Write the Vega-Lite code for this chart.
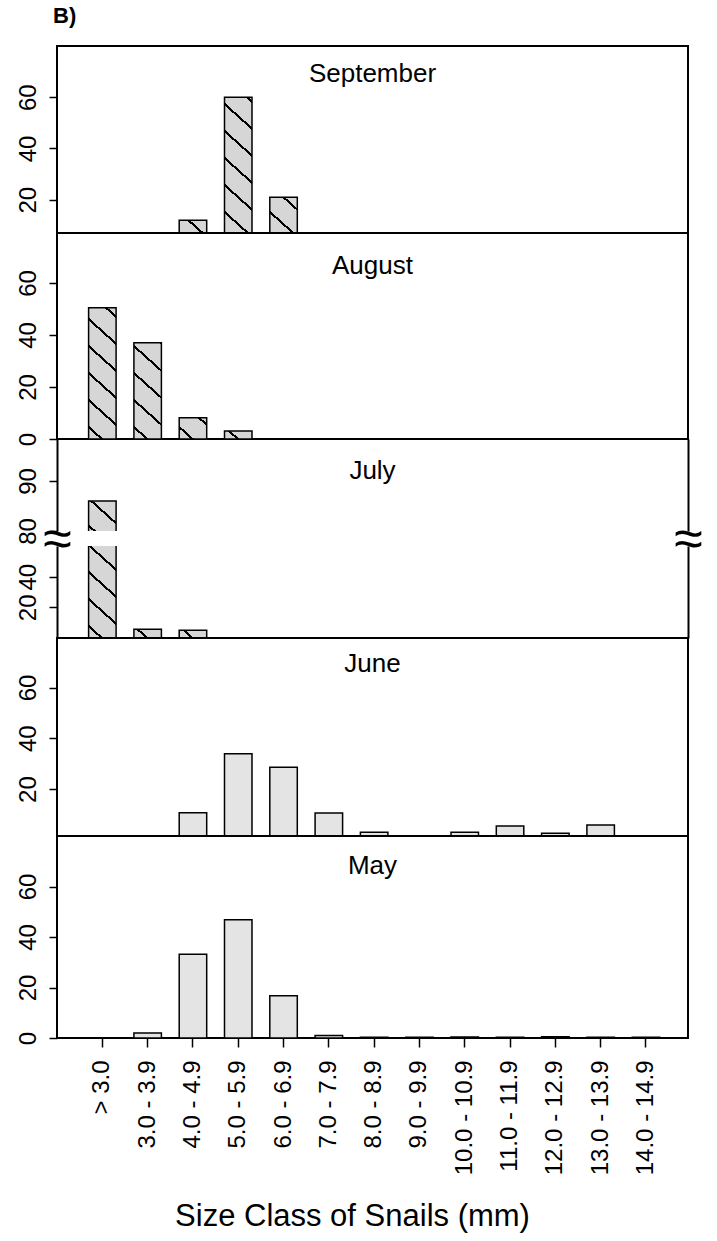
{
  "$schema": "https://vega.github.io/schema/vega-lite/v6.json",
  "background": "white",
  "padding": {"left": 14, "top": 5, "right": 5, "bottom": 5},
  "bounds": "flush",
  "title": {"text": "B)", "anchor": "start", "fontSize": 22, "fontWeight": "bold", "baseline": "alphabetic", "offset": 0, "font": "Liberation Sans", "dx": -4},
  "data": {
    "values": [
      {"month": "September", "size": "4.0 - 4.9", "pct": 12},
      {"month": "September", "size": "5.0 - 5.9", "pct": 60},
      {"month": "September", "size": "6.0 - 6.9", "pct": 21},
      {"month": "August", "size": "> 3.0", "pct": 50.5},
      {"month": "August", "size": "3.0 - 3.9", "pct": 37},
      {"month": "August", "size": "4.0 - 4.9", "pct": 8.2},
      {"month": "August", "size": "5.0 - 5.9", "pct": 3.1},
      {"month": "July", "size": "> 3.0", "pct": 86},
      {"month": "July", "size": "3.0 - 3.9", "pct": 5.7},
      {"month": "July", "size": "4.0 - 4.9", "pct": 5},
      {"month": "June", "size": "4.0 - 4.9", "pct": 10.7},
      {"month": "June", "size": "5.0 - 5.9", "pct": 33.9},
      {"month": "June", "size": "6.0 - 6.9", "pct": 28.6},
      {"month": "June", "size": "7.0 - 7.9", "pct": 10.6},
      {"month": "June", "size": "8.0 - 8.9", "pct": 3},
      {"month": "June", "size": "10.0 - 10.9", "pct": 3},
      {"month": "June", "size": "11.0 - 11.9", "pct": 5.4},
      {"month": "June", "size": "12.0 - 12.9", "pct": 2.6},
      {"month": "June", "size": "13.0 - 13.9", "pct": 5.8},
      {"month": "May", "size": "3.0 - 3.9", "pct": 2},
      {"month": "May", "size": "4.0 - 4.9", "pct": 33.2},
      {"month": "May", "size": "5.0 - 5.9", "pct": 46.8},
      {"month": "May", "size": "6.0 - 6.9", "pct": 16.7},
      {"month": "May", "size": "7.0 - 7.9", "pct": 1},
      {"month": "May", "size": "8.0 - 8.9", "pct": 0.3},
      {"month": "May", "size": "9.0 - 9.9", "pct": 0.3},
      {"month": "May", "size": "10.0 - 10.9", "pct": 0.4},
      {"month": "May", "size": "11.0 - 11.9", "pct": 0.3},
      {"month": "May", "size": "12.0 - 12.9", "pct": 0.5},
      {"month": "May", "size": "13.0 - 13.9", "pct": 0.3},
      {"month": "May", "size": "14.0 - 14.9", "pct": 0.3}
    ]
  },
  "spacing": 0,
  "vconcat": [
    {
      "width": 631, "height": 187,
      "title": {"text": "September", "offset": -41},
      "transform": [{"filter": "datum.month === 'September'"}],
      "encoding": {
        "x": {"field": "size", "type": "nominal", "axis": null,
              "scale": {"type": "band", "domain": ["> 3.0", "3.0 - 3.9", "4.0 - 4.9", "5.0 - 5.9", "6.0 - 6.9", "7.0 - 7.9", "8.0 - 8.9", "9.0 - 9.9", "10.0 - 10.9", "11.0 - 11.9", "12.0 - 12.9", "13.0 - 13.9", "14.0 - 14.9"], "range": [22.7, 611.6], "paddingInner": 0.393, "paddingOuter": 0.1965}},
        "y": {"field": "pct", "type": "quantitative", "scale": {"domain": [7, 80], "nice": false, "zero": false}, "axis": {"values": [20, 40, 60], "title": null}}
      },
      "layer": [
        {"transform": [{"filter": "datum.size === '4.0 - 4.9'"}],
         "mark": {"type": "bar", "clip": true, "stroke": "black", "strokeWidth": 1.5,
                  "fill": {"gradient": "linear", "x1": 0, "y1": 1, "x2": 0.8818, "y2": -0.0952, "stops": [
                    {"offset": 0, "color": "#d6d6d6"},
                    {"offset": 0.6776, "color": "#d6d6d6"}, {"offset": 0.6776, "color": "black"}, {"offset": 0.7281, "color": "black"}, {"offset": 0.7281, "color": "#d6d6d6"},
                    {"offset": 1, "color": "#d6d6d6"}]}}},
        {"transform": [{"filter": "datum.size === '5.0 - 5.9'"}],
         "mark": {"type": "bar", "clip": true, "stroke": "black", "strokeWidth": 1.5,
                  "fill": {"gradient": "linear", "x1": 0, "y1": 1, "x2": 0.1822, "y2": -0.1317, "stops": [
                    {"offset": 0, "color": "#d6d6d6"},
                    {"offset": 0.2107, "color": "#d6d6d6"}, {"offset": 0.2107, "color": "black"}, {"offset": 0.2264, "color": "black"}, {"offset": 0.2264, "color": "#d6d6d6"},
                    {"offset": 0.3620, "color": "#d6d6d6"}, {"offset": 0.3620, "color": "black"}, {"offset": 0.3777, "color": "black"}, {"offset": 0.3777, "color": "#d6d6d6"},
                    {"offset": 0.5133, "color": "#d6d6d6"}, {"offset": 0.5133, "color": "black"}, {"offset": 0.5290, "color": "black"}, {"offset": 0.5290, "color": "#d6d6d6"},
                    {"offset": 0.6646, "color": "#d6d6d6"}, {"offset": 0.6646, "color": "black"}, {"offset": 0.6803, "color": "black"}, {"offset": 0.6803, "color": "#d6d6d6"},
                    {"offset": 0.8159, "color": "#d6d6d6"}, {"offset": 0.8159, "color": "black"}, {"offset": 0.8316, "color": "black"}, {"offset": 0.8316, "color": "#d6d6d6"},
                    {"offset": 0.9672, "color": "#d6d6d6"}, {"offset": 0.9672, "color": "black"}, {"offset": 0.9829, "color": "black"}, {"offset": 0.9829, "color": "#d6d6d6"},
                    {"offset": 1, "color": "#d6d6d6"}]}}},
        {"transform": [{"filter": "datum.size === '6.0 - 6.9'"}],
         "mark": {"type": "bar", "clip": true, "stroke": "black", "strokeWidth": 1.5,
                  "fill": {"gradient": "linear", "x1": 0, "y1": 1, "x2": 0.5545, "y2": -0.2050, "stops": [
                    {"offset": 0, "color": "#d6d6d6"},
                    {"offset": 0.4787, "color": "#d6d6d6"}, {"offset": 0.4787, "color": "black"}, {"offset": 0.5144, "color": "black"}, {"offset": 0.5144, "color": "#d6d6d6"},
                    {"offset": 0.8225, "color": "#d6d6d6"}, {"offset": 0.8225, "color": "black"}, {"offset": 0.8582, "color": "black"}, {"offset": 0.8582, "color": "#d6d6d6"},
                    {"offset": 1, "color": "#d6d6d6"}]}}}
      ]
    },
    {
      "width": 631, "height": 206,
      "title": {"text": "August", "offset": -46},
      "transform": [{"filter": "datum.month === 'August'"}],
      "encoding": {
        "x": {"field": "size", "type": "nominal", "axis": null,
              "scale": {"type": "band", "domain": ["> 3.0", "3.0 - 3.9", "4.0 - 4.9", "5.0 - 5.9", "6.0 - 6.9", "7.0 - 7.9", "8.0 - 8.9", "9.0 - 9.9", "10.0 - 10.9", "11.0 - 11.9", "12.0 - 12.9", "13.0 - 13.9", "14.0 - 14.9"], "range": [22.7, 611.6], "paddingInner": 0.393, "paddingOuter": 0.1965}},
        "y": {"field": "pct", "type": "quantitative", "scale": {"domain": [0, 79.2], "nice": false}, "axis": {"values": [0, 20, 40, 60], "title": null}}
      },
      "layer": [
        {"transform": [{"filter": "datum.size === '> 3.0'"}],
         "mark": {"type": "bar", "clip": true, "stroke": "black", "strokeWidth": 1.5,
                  "fill": {"gradient": "linear", "x1": 0, "y1": 1, "x2": 0.2163, "y2": -0.1477, "stops": [
                    {"offset": 0, "color": "#d6d6d6"},
                    {"offset": 0.0679, "color": "#d6d6d6"}, {"offset": 0.0679, "color": "black"}, {"offset": 0.0858, "color": "black"}, {"offset": 0.0858, "color": "#d6d6d6"},
                    {"offset": 0.2409, "color": "#d6d6d6"}, {"offset": 0.2409, "color": "black"}, {"offset": 0.2588, "color": "black"}, {"offset": 0.2588, "color": "#d6d6d6"},
                    {"offset": 0.4138, "color": "#d6d6d6"}, {"offset": 0.4138, "color": "black"}, {"offset": 0.4318, "color": "black"}, {"offset": 0.4318, "color": "#d6d6d6"},
                    {"offset": 0.5868, "color": "#d6d6d6"}, {"offset": 0.5868, "color": "black"}, {"offset": 0.6047, "color": "black"}, {"offset": 0.6047, "color": "#d6d6d6"},
                    {"offset": 0.7598, "color": "#d6d6d6"}, {"offset": 0.7598, "color": "black"}, {"offset": 0.7777, "color": "black"}, {"offset": 0.7777, "color": "#d6d6d6"},
                    {"offset": 0.9327, "color": "#d6d6d6"}, {"offset": 0.9327, "color": "black"}, {"offset": 0.9507, "color": "black"}, {"offset": 0.9507, "color": "#d6d6d6"},
                    {"offset": 1, "color": "#d6d6d6"}]}}},
        {"transform": [{"filter": "datum.size === '3.0 - 3.9'"}],
         "mark": {"type": "bar", "clip": true, "stroke": "black", "strokeWidth": 1.5,
                  "fill": {"gradient": "linear", "x1": 0, "y1": 1, "x2": 0.3032, "y2": -0.1792, "stops": [
                    {"offset": 0, "color": "#d6d6d6"},
                    {"offset": 0.0876, "color": "#d6d6d6"}, {"offset": 0.0876, "color": "black"}, {"offset": 0.1108, "color": "black"}, {"offset": 0.1108, "color": "#d6d6d6"},
                    {"offset": 0.3108, "color": "#d6d6d6"}, {"offset": 0.3108, "color": "black"}, {"offset": 0.3339, "color": "black"}, {"offset": 0.3339, "color": "#d6d6d6"},
                    {"offset": 0.5339, "color": "#d6d6d6"}, {"offset": 0.5339, "color": "black"}, {"offset": 0.5571, "color": "black"}, {"offset": 0.5571, "color": "#d6d6d6"},
                    {"offset": 0.7571, "color": "#d6d6d6"}, {"offset": 0.7571, "color": "black"}, {"offset": 0.7802, "color": "black"}, {"offset": 0.7802, "color": "#d6d6d6"},
                    {"offset": 0.9802, "color": "#d6d6d6"}, {"offset": 0.9802, "color": "black"}, {"offset": 1, "color": "black"}]}}},
        {"transform": [{"filter": "datum.size === '4.0 - 4.9'"}],
         "mark": {"type": "bar", "clip": true, "stroke": "black", "strokeWidth": 1.5,
                  "fill": {"gradient": "linear", "x1": 0, "y1": 1, "x2": 1.0683, "y2": 0.0793, "stops": [
                    {"offset": 0, "color": "#d6d6d6"},
                    {"offset": 0.2300, "color": "#d6d6d6"}, {"offset": 0.2300, "color": "black"}, {"offset": 0.2908, "color": "black"}, {"offset": 0.2908, "color": "#d6d6d6"},
                    {"offset": 0.8160, "color": "#d6d6d6"}, {"offset": 0.8160, "color": "black"}, {"offset": 0.8767, "color": "black"}, {"offset": 0.8767, "color": "#d6d6d6"},
                    {"offset": 1, "color": "#d6d6d6"}]}}},
        {"transform": [{"filter": "datum.size === '5.0 - 5.9'"}],
         "mark": {"type": "bar", "clip": true, "stroke": "black", "strokeWidth": 1.5,
                  "fill": {"gradient": "linear", "x1": 0, "y1": 1, "x2": 1.1985, "y2": 0.6097, "stops": [
                    {"offset": 0, "color": "#d6d6d6"},
                    {"offset": 0.3231, "color": "#d6d6d6"}, {"offset": 0.3231, "color": "black"}, {"offset": 0.4084, "color": "black"}, {"offset": 0.4084, "color": "#d6d6d6"},
                    {"offset": 1, "color": "#d6d6d6"}]}}}
      ]
    },
    {
      "width": 631, "height": 92,
      "view": {"stroke": null},
      "title": {"text": "July", "offset": -45},
      "transform": [{"filter": "datum.month === 'July'"}],
      "layer": [
        {
          "transform": [{"filter": "datum.size === '> 3.0'"}],
          "mark": {"type": "bar", "clip": true, "stroke": "black", "strokeWidth": 1.5,
                   "fill": {"gradient": "linear", "x1": 0, "y1": 1, "x2": 0.8491, "y2": -0.1149, "stops": [
                     {"offset": 0, "color": "#d6d6d6"},
                     {"offset": 0.1153, "color": "#d6d6d6"}, {"offset": 0.1153, "color": "black"}, {"offset": 0.1642, "color": "black"}, {"offset": 0.1642, "color": "#d6d6d6"},
                     {"offset": 0.5869, "color": "#d6d6d6"}, {"offset": 0.5869, "color": "black"}, {"offset": 0.6358, "color": "black"}, {"offset": 0.6358, "color": "#d6d6d6"},
                     {"offset": 1, "color": "#d6d6d6"}]}},
          "encoding": {
            "x": {"field": "size", "type": "nominal", "axis": null,
                  "scale": {"type": "band", "domain": ["> 3.0", "3.0 - 3.9", "4.0 - 4.9", "5.0 - 5.9", "6.0 - 6.9", "7.0 - 7.9", "8.0 - 8.9", "9.0 - 9.9", "10.0 - 10.9", "11.0 - 11.9", "12.0 - 12.9", "13.0 - 13.9", "14.0 - 14.9"], "range": [22.7, 611.6], "paddingInner": 0.393, "paddingOuter": 0.1965}},
            "y": {"field": "pct", "type": "quantitative", "scale": {"domain": [80, 98.4], "nice": false, "zero": false},
                  "axis": {"values": [80, 90], "domain": true, "domainColor": "black", "domainWidth": 2,
                           "title": "≈", "titleAngle": 0, "titleX": 0, "titleY": 100, "titleAlign": "center", "titleBaseline": "middle", "titleFontSize": 52, "titleFontWeight": "normal"}},
            "y2": {"datum": 79.5}
          }
        },
        {
          "mark": {"type": "bar", "clip": true, "opacity": 0},
          "encoding": {
            "x": {"field": "size", "type": "nominal", "axis": null},
            "y": {"field": "pct", "type": "quantitative",
                  "axis": {"orient": "right", "labels": false, "ticks": false, "domain": true, "domainColor": "black", "domainWidth": 2,
                           "title": "≈", "titleAngle": 0, "titleX": 0, "titleY": 100, "titleAlign": "center", "titleBaseline": "middle", "titleFontSize": 52, "titleFontWeight": "normal"}}
          }
        }
      ],
      "resolve": {"axis": {"y": "independent"}}
    },
    {
      "width": 631, "height": 15,
      "view": {"stroke": null},
      "transform": [{"filter": "false"}],
      "mark": {"type": "point", "opacity": 0},
      "encoding": {}
    },
    {
      "width": 631, "height": 92,
      "view": {"stroke": null},
      "transform": [{"filter": "datum.month === 'July'"}],
      "layer": [
        {
          "encoding": {
            "x": {"field": "size", "type": "nominal", "axis": null,
                  "scale": {"type": "band", "domain": ["> 3.0", "3.0 - 3.9", "4.0 - 4.9", "5.0 - 5.9", "6.0 - 6.9", "7.0 - 7.9", "8.0 - 8.9", "9.0 - 9.9", "10.0 - 10.9", "11.0 - 11.9", "12.0 - 12.9", "13.0 - 13.9", "14.0 - 14.9"], "range": [22.7, 611.6], "paddingInner": 0.393, "paddingOuter": 0.1965}},
            "y": {"field": "pct", "type": "quantitative", "scale": {"domain": [0, 60], "nice": false},
                  "axis": {"values": [20, 40], "domain": true, "domainColor": "black", "domainWidth": 2, "title": null}}
          },
          "layer": [
            {"transform": [{"filter": "datum.size === '> 3.0'"}],
             "mark": {"type": "bar", "clip": true, "stroke": "black", "strokeWidth": 1.5,
                      "fill": {"gradient": "linear", "x1": 0, "y1": 1, "x2": 0.2153, "y2": -0.1473, "stops": [
                        {"offset": 0, "color": "#d6d6d6"},
                        {"offset": 0.0677, "color": "#d6d6d6"}, {"offset": 0.0677, "color": "black"}, {"offset": 0.0856, "color": "black"}, {"offset": 0.0856, "color": "#d6d6d6"},
                        {"offset": 0.2401, "color": "#d6d6d6"}, {"offset": 0.2401, "color": "black"}, {"offset": 0.2580, "color": "black"}, {"offset": 0.2580, "color": "#d6d6d6"},
                        {"offset": 0.4125, "color": "#d6d6d6"}, {"offset": 0.4125, "color": "black"}, {"offset": 0.4303, "color": "black"}, {"offset": 0.4303, "color": "#d6d6d6"},
                        {"offset": 0.5849, "color": "#d6d6d6"}, {"offset": 0.5849, "color": "black"}, {"offset": 0.6027, "color": "black"}, {"offset": 0.6027, "color": "#d6d6d6"},
                        {"offset": 0.7572, "color": "#d6d6d6"}, {"offset": 0.7572, "color": "black"}, {"offset": 0.7751, "color": "black"}, {"offset": 0.7751, "color": "#d6d6d6"},
                        {"offset": 0.9296, "color": "#d6d6d6"}, {"offset": 0.9296, "color": "black"}, {"offset": 0.9475, "color": "black"}, {"offset": 0.9475, "color": "#d6d6d6"},
                        {"offset": 1, "color": "#d6d6d6"}]}}},
            {"transform": [{"filter": "datum.size === '3.0 - 3.9'"}],
             "mark": {"type": "bar", "clip": true, "stroke": "black", "strokeWidth": 1.5,
                      "fill": {"gradient": "linear", "x1": 0, "y1": 1, "x2": 1.2031, "y2": 0.5752, "stops": [
                        {"offset": 0, "color": "#d6d6d6"},
                        {"offset": 0.3165, "color": "#d6d6d6"}, {"offset": 0.3165, "color": "black"}, {"offset": 0.4001, "color": "black"}, {"offset": 0.4001, "color": "#d6d6d6"},
                        {"offset": 1, "color": "#d6d6d6"}]}}},
            {"transform": [{"filter": "datum.size === '4.0 - 4.9'"}],
             "mark": {"type": "bar", "clip": true, "stroke": "black", "strokeWidth": 1.5,
                      "fill": {"gradient": "linear", "x1": 0, "y1": 1, "x2": 1.1951, "y2": 0.6296, "stops": [
                        {"offset": 0, "color": "#d6d6d6"},
                        {"offset": 0.3270, "color": "#d6d6d6"}, {"offset": 0.3270, "color": "black"}, {"offset": 0.4133, "color": "black"}, {"offset": 0.4133, "color": "#d6d6d6"},
                        {"offset": 1, "color": "#d6d6d6"}]}}}
          ]
        },
        {
          "mark": {"type": "bar", "clip": true, "opacity": 0},
          "encoding": {
            "x": {"field": "size", "type": "nominal", "axis": null},
            "y": {"field": "pct", "type": "quantitative",
                  "axis": {"orient": "right", "labels": false, "ticks": false, "domain": true, "domainColor": "black", "domainWidth": 2, "title": null}}
          }
        }
      ],
      "resolve": {"axis": {"y": "independent"}}
    },
    {
      "width": 631, "height": 198,
      "title": {"text": "June", "offset": -39},
      "transform": [{"filter": "datum.month === 'June'"}],
      "mark": {"type": "bar", "clip": true, "fill": "#e4e4e4", "stroke": "black", "strokeWidth": 1.5},
      "encoding": {
        "x": {"field": "size", "type": "nominal", "axis": null,
              "scale": {"type": "band", "domain": ["> 3.0", "3.0 - 3.9", "4.0 - 4.9", "5.0 - 5.9", "6.0 - 6.9", "7.0 - 7.9", "8.0 - 8.9", "9.0 - 9.9", "10.0 - 10.9", "11.0 - 11.9", "12.0 - 12.9", "13.0 - 13.9", "14.0 - 14.9"], "range": [22.7, 611.6], "paddingInner": 0.393, "paddingOuter": 0.1965}},
        "y": {"field": "pct", "type": "quantitative", "scale": {"domain": [1.5, 79.5], "nice": false, "zero": false}, "axis": {"values": [20, 40, 60], "title": null}}
      }
    },
    {
      "width": 631, "height": 202,
      "title": {"text": "May", "offset": -43},
      "transform": [{"filter": "datum.month === 'May'"}],
      "mark": {"type": "bar", "clip": true, "fill": "#e4e4e4", "stroke": "black", "strokeWidth": 1.5},
      "encoding": {
        "x": {"field": "size", "type": "nominal",
              "scale": {"type": "band", "domain": ["> 3.0", "3.0 - 3.9", "4.0 - 4.9", "5.0 - 5.9", "6.0 - 6.9", "7.0 - 7.9", "8.0 - 8.9", "9.0 - 9.9", "10.0 - 10.9", "11.0 - 11.9", "12.0 - 12.9", "13.0 - 13.9", "14.0 - 14.9"], "range": [22.7, 611.6], "paddingInner": 0.393, "paddingOuter": 0.1965},
              "axis": {"title": "Size Class of Snails (mm)", "labelAngle": 270, "labelAlign": "right", "labelBaseline": "middle", "labelPadding": 13, "tickSize": 9, "titleFontSize": 31, "titleFontWeight": "normal", "titlePadding": 27, "titleX": 295}},
        "y": {"field": "pct", "type": "quantitative", "scale": {"domain": [0, 80], "nice": false}, "axis": {"values": [0, 20, 40, 60], "title": null}}
      }
    }
  ],
  "config": {
    "font": "Liberation Sans",
    "view": {"stroke": "black", "strokeWidth": 2},
    "axis": {"labelFont": "Liberation Sans", "labelFontSize": 24, "labelColor": "black", "tickColor": "black", "tickWidth": 1.5, "tickSize": 8, "domain": false, "grid": false, "titleFont": "Liberation Sans", "titleColor": "black", "labelOverlap": false},
    "axisY": {"labelAngle": 270, "labelAlign": "center", "labelBaseline": "bottom", "labelPadding": 9},
    "title": {"font": "Liberation Sans", "fontSize": 26, "fontWeight": "normal", "color": "black", "frame": "group", "baseline": "alphabetic", "anchor": "middle"}
  }
}
